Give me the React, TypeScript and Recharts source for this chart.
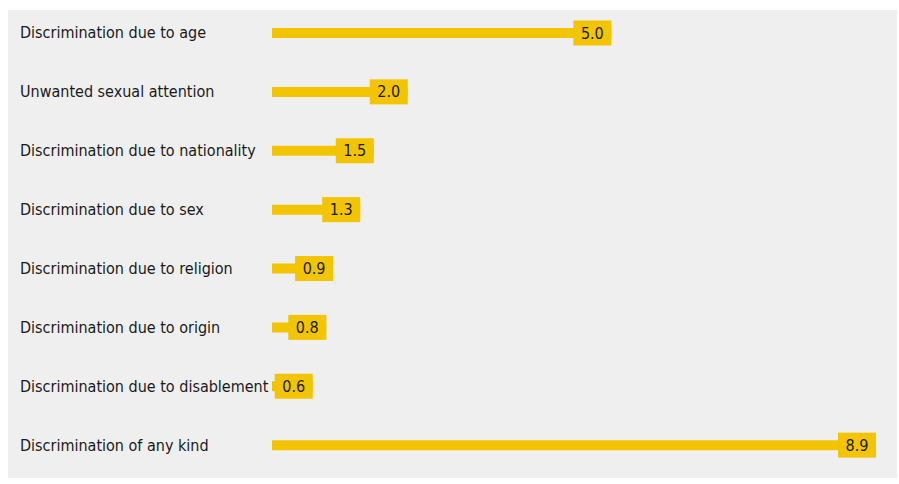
import { BarChart, Bar, XAxis, YAxis, LabelList } from 'recharts'

const categories = [
  'Discrimination due to age',
  'Unwanted sexual attention',
  'Discrimination due to nationality',
  'Discrimination due to sex',
  'Discrimination due to religion',
  'Discrimination due to origin',
  'Discrimination due to disablement',
  'Discrimination of any kind',
]
const values = [5.0, 2.0, 1.5, 1.3, 0.9, 0.8, 0.6, 8.9]

const YELLOW = '#f2c500'
const FONT = '"DejaVu Sans Condensed", "Liberation Sans Narrow", "Open Sans", sans-serif'

const data = categories.map((name, i) => ({ name, value: values[i] }))

function CategoryTick(props: any) {
  const { y, payload } = props
  return (
    <text x={20} y={y} dy={5} textAnchor="start" fontSize={16} fill="#1a1a1a" fontFamily={FONT}>
      {payload.value}
    </text>
  )
}

function ValueBox(props: any) {
  const { x, y, width, height, value } = props
  const w = 38
  const h = 25
  const right = x + width
  const cy = y + height / 2
  return (
    <g>
      <rect x={right - w} y={cy - h / 2} width={w} height={h} fill={YELLOW} />
      <text x={right - w / 2} y={cy} dy={5.5} textAnchor="middle" fontSize={16} fill="#1a1a1a" fontFamily={FONT}>
        {Number(value).toFixed(1)}
      </text>
    </g>
  )
}

export default function App() {
  return (
    <div style={{ position: 'absolute', left: 0, top: 0, width: 899, height: 484, background: '#fff' }}>
      <div style={{ position: 'absolute', left: 8, top: 10, width: 889, height: 468, background: '#efefef' }} />
      <div style={{ position: 'absolute', left: 0, top: 0 }}>
        <BarChart
          width={899}
          height={484}
          data={data}
          layout="vertical"
          margin={{ top: 4, right: 23, bottom: 9, left: 0 }}
        >
          <XAxis type="number" domain={[0, 8.9]} hide />
          <YAxis
            type="category"
            dataKey="name"
            width={272}
            axisLine={false}
            tickLine={false}
            tick={<CategoryTick />}
            interval={0}
          />
          <Bar dataKey="value" fill={YELLOW} barSize={10} isAnimationActive={false}>
            <LabelList dataKey="value" content={<ValueBox />} />
          </Bar>
        </BarChart>
      </div>
    </div>
  )
}
